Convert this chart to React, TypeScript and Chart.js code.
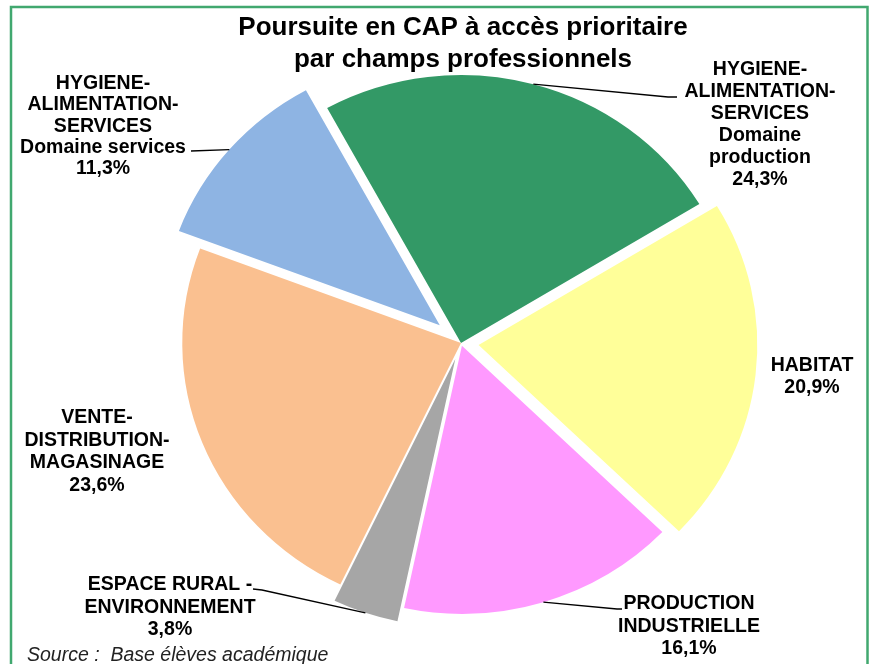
import { useEffect, useRef } from "react";
import { Chart, registerables } from "chart.js";

Chart.register(...registerables);

// ---- data ----
const categories: string[][] = [
  ["HYGIENE-", "ALIMENTATION-", "SERVICES", "Domaine", "production"],
  ["HABITAT"],
  ["PRODUCTION", "INDUSTRIELLE"],
  ["ESPACE RURAL -", "ENVIRONNEMENT"],
  ["VENTE-", "DISTRIBUTION-", "MAGASINAGE"],
  ["HYGIENE-", "ALIMENTATION-", "SERVICES", "Domaine services"],
];
const values = [24.3, 20.9, 16.1, 3.8, 23.6, 11.3];
const titleLines = ["Poursuite en CAP à accès prioritaire", "par champs professionnels"];
const sourceText = "Source :  Base élèves académique";

// ---- styles / layout ----
const colors = ["#339966", "#FFFF99", "#FF99FF", "#A6A6A6", "#FAC090", "#8EB4E3"];
const explode = [0, 17, 3, 17, 0, 27];
const SX = 1.04; // horizontal stretch of the original picture
const labelLayout = [
  { x: 760, y: 75, lh: 22, leader: [[677, 97], [668, 97]] },
  { x: 812, y: 371, lh: 22, leader: null },
  { x: 689, y: 609, lh: 22.5, leader: [[622, 609], [617, 609]] },
  { x: 170, y: 590, lh: 22.5, leader: [[253, 589], [262, 590]] },
  { x: 97, y: 423, lh: 22.5, leader: null },
  { x: 103, y: 89, lh: 21.3, leader: [[191, 151]] },
];

const fmt = (v: number) => v.toFixed(1).replace(".", ",") + "%";

const piePlugin = {
  id: "pieLayout",
  beforeDatasetsDraw(chart: any) {
    const { ctx, chartArea } = chart;
    const cx = (chartArea.left + chartArea.right) / 2;
    const cy = (chartArea.top + chartArea.bottom) / 2;
    const meta = chart.getDatasetMeta(0);
    meta.data.forEach((arc: any, i: number) => {
      const mid = (arc.startAngle + arc.endAngle) / 2;
      arc.x = cx + Math.cos(mid) * explode[i];
      arc.y = cy + Math.sin(mid) * explode[i];
    });
    ctx.save();
    ctx.translate(cx, 0);
    ctx.scale(SX, 1);
    ctx.translate(-cx, 0);
  },
  afterDatasetsDraw(chart: any) {
    chart.ctx.restore();
  },
  afterDraw(chart: any) {
    const { ctx, chartArea } = chart;
    const cx = (chartArea.left + chartArea.right) / 2;
    const meta = chart.getDatasetMeta(0);
    ctx.save();
    // border
    ctx.strokeStyle = "#41a86f";
    ctx.lineWidth = 2.5;
    ctx.strokeRect(11, 7, 856.5, 720);
    // title
    ctx.fillStyle = "#000";
    ctx.textAlign = "center";
    ctx.textBaseline = "alphabetic";
    ctx.font = 'bold 26px "Liberation Sans", Arial, sans-serif';
    titleLines.forEach((t, k) => ctx.fillText(t, 463, 35 + k * 32));
    // labels
    ctx.font = 'bold 19.5px "Liberation Sans", Arial, sans-serif';
    labelLayout.forEach((lay, i) => {
      const lines = [...categories[i], fmt(values[i])];
      lines.forEach((t, k) => ctx.fillText(t, lay.x, lay.y + k * lay.lh));
      if (lay.leader) {
        const arc = meta.data[i];
        const mid = (arc.startAngle + arc.endAngle) / 2;
        const px = arc.x + Math.cos(mid) * arc.outerRadius;
        const py = arc.y + Math.sin(mid) * arc.outerRadius;
        const sx = cx + SX * (px - cx);
        ctx.beginPath();
        ctx.strokeStyle = "#000";
        ctx.lineWidth = 1.3;
        ctx.moveTo(lay.leader[0][0], lay.leader[0][1]);
        for (let k = 1; k < lay.leader.length; k++) ctx.lineTo(lay.leader[k][0], lay.leader[k][1]);
        ctx.lineTo(sx, py);
        ctx.stroke();
      }
    });
    // source
    ctx.textAlign = "left";
    ctx.fillStyle = "#222";
    ctx.font = 'italic 19.5px "Liberation Sans", Arial, sans-serif';
    ctx.fillText(sourceText, 27, 661);
    ctx.restore();
  },
};

export default function App() {
  const ref = useRef<HTMLCanvasElement | null>(null);
  useEffect(() => {
    if (!ref.current) return;
    const chart = new Chart(ref.current, {
      type: "pie",
      data: {
        labels: categories.map((c) => c.join(" ")),
        datasets: [
          {
            data: values,
            backgroundColor: colors,
            borderWidth: 0,
            clip: false,
          } as any,
        ],
      },
      options: {
        responsive: false,
        animation: false,
        devicePixelRatio: 1,
        events: [],
        rotation: -28.7,
        radius: 268,
        layout: { padding: { left: 53, right: 0, top: 22, bottom: 0 } },
        plugins: {
          legend: { display: false },
          tooltip: { enabled: false },
          title: { display: false },
        },
      } as any,
      plugins: [piePlugin],
    });
    return () => chart.destroy();
  }, []);
  return (
    <div style={{ position: "absolute", left: 0, top: 0, width: 869, height: 664, background: "#fff" }}>
      <canvas ref={ref} width={869} height={664} style={{ width: 869, height: 664 }} />
    </div>
  );
}
